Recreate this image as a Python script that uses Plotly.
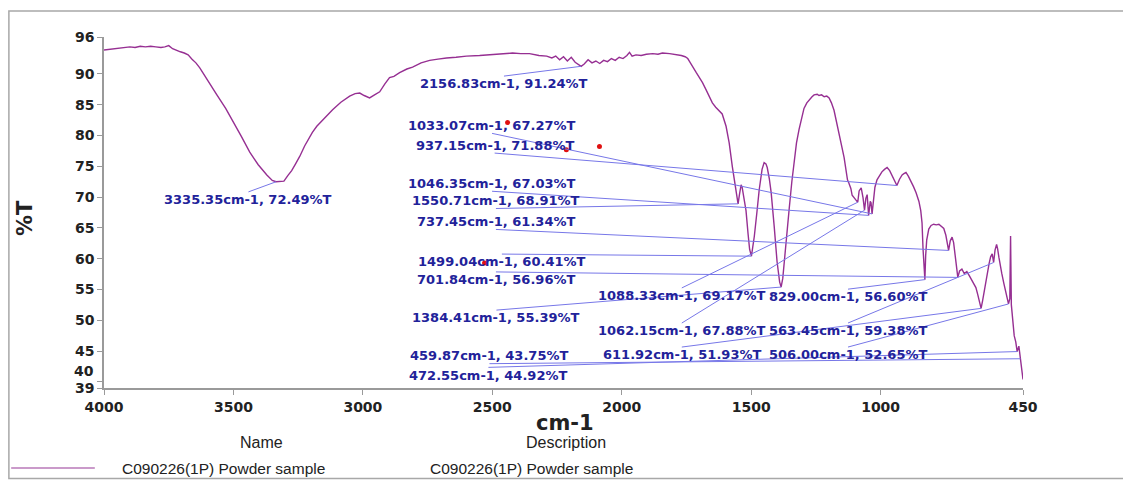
import plotly.graph_objects as go

# ---------------- data ----------------
wavenumber = [
    4000, 3980, 3960, 3940, 3920, 3900, 3880, 3860, 3840, 3820, 3800, 3780, 3765, 3750, 3735,
    3720, 3705, 3690, 3675, 3660, 3645, 3630, 3600, 3564, 3530, 3502, 3470, 3437, 3405, 3371,
    3350, 3335.35, 3320, 3305, 3290, 3275, 3260, 3244, 3225, 3210, 3195, 3178, 3150, 3117, 3085,
    3051, 3030, 3012, 2995, 2974, 2955, 2935, 2915, 2897, 2880, 2858, 2830, 2808, 2775, 2742,
    2710, 2677, 2640, 2600, 2549, 2500, 2460, 2422, 2390, 2356, 2320, 2290, 2270, 2255, 2240,
    2225, 2210, 2195, 2180, 2168, 2156.83, 2145, 2130, 2115, 2100, 2085, 2070, 2055, 2040, 2025,
    2010, 1995, 1980, 1970, 1960, 1945, 1925, 1905, 1880, 1860, 1843, 1815, 1790, 1770, 1755,
    1745, 1739, 1725, 1712, 1700, 1688, 1675, 1662, 1650, 1637, 1625, 1612, 1597, 1585, 1573,
    1562, 1555, 1550.71, 1545, 1539, 1535, 1528, 1520, 1512, 1506, 1499.04, 1493, 1488, 1478, 1469,
    1458, 1450, 1443, 1438, 1430, 1423, 1411, 1400, 1390, 1384.41, 1378, 1373, 1363, 1353, 1343,
    1334, 1325, 1315, 1305, 1296, 1285, 1276, 1265, 1257, 1245, 1238, 1228, 1218, 1208, 1199,
    1190, 1180, 1170, 1160, 1150, 1141, 1134, 1128, 1122, 1115, 1110, 1103, 1095, 1088.33, 1083,
    1075, 1068, 1062.15, 1057, 1052, 1046.35, 1040, 1037, 1033.07, 1028, 1022, 1014, 1005, 995,
    985, 975, 965, 956, 947, 937.15, 927, 917, 910, 902, 893, 883, 873, 863, 852,
    845, 840, 836, 832, 829.00, 826, 822, 814, 805, 795, 785, 775, 765, 756, 748,
    743, 737.45, 731, 724, 718, 710, 705, 701.84, 695, 686, 677, 667, 657, 648, 640,
    632, 625, 618, 611.92, 606, 601, 594, 588, 581, 575, 569, 563.45, 558, 552, 548,
    543, 538, 532, 524, 517, 512, 506.00, 501, 498, 495, 490, 484, 478, 472.55, 466,
    459.87, 455, 450,
]
transmittance = [
    93.9, 94.0, 94.0, 94.2, 94.2, 94.4, 94.3, 94.5, 94.4, 94.5, 94.4, 94.3, 94.4, 94.6, 94.1,
    93.8, 93.6, 93.4, 93.1, 92.4, 91.8, 91.0, 88.9, 86.6, 84.4, 82.4, 79.9, 77.3, 75.3, 73.6,
    72.7, 72.49, 72.5, 72.6, 73.5, 74.3, 75.4, 76.6, 78.3, 79.5, 80.5, 81.5, 82.8, 84.2, 85.4,
    86.4, 86.8, 86.9, 86.5, 86.1, 86.6, 87.1, 88.4, 89.4, 89.6, 90.2, 90.8, 91.1, 91.8, 92.2,
    92.4, 92.6, 92.7, 92.9, 93.0, 93.2, 93.3, 93.4, 93.3, 93.3, 93.0, 92.9, 92.6, 92.9, 92.3,
    92.8, 92.1, 92.7, 91.9, 91.5, 91.24, 91.6, 92.3, 91.8, 92.1, 91.7, 92.2, 92.0, 92.5, 92.2,
    92.7, 92.5, 93.0, 93.5, 92.9, 93.1, 93.0, 93.2, 93.3, 93.2, 93.4, 93.3, 93.2, 93.0, 92.8,
    92.5, 92.1, 91.0, 90.2, 89.4, 88.6, 87.5, 86.4, 85.3, 84.6, 84.1, 83.5, 81.5, 78.8, 75.0,
    71.8, 69.5, 68.91, 70.5, 72.0, 71.6, 70.0, 67.8, 64.0, 61.5, 60.41, 61.8, 63.6, 67.5, 71.2,
    74.5, 75.6, 75.4, 74.8, 73.0, 70.8, 65.2, 59.5, 56.2, 55.39, 56.8, 59.3, 63.8, 68.2, 72.5,
    76.0, 78.8, 81.0, 83.1, 84.4, 85.3, 85.8, 86.3, 86.6, 86.7, 86.5, 86.6, 86.3, 86.4, 86.1,
    85.3, 84.1, 82.3, 80.4, 78.2, 76.4, 74.6, 72.8, 72.2, 71.4, 70.3, 70.0, 69.5, 69.17, 71.0,
    71.5, 69.9, 67.88, 69.8, 70.4, 67.03, 69.3, 69.1, 67.27, 69.8, 71.6, 72.8, 73.5, 74.1,
    74.5, 74.8, 74.3, 73.6, 72.8, 71.88, 72.9, 73.6, 73.8, 74.0, 73.4, 72.6, 71.7, 70.7, 69.3,
    67.8, 65.8, 61.5, 58.5, 56.60, 60.5, 63.0, 64.8, 65.4, 65.6, 65.5, 65.6, 65.3, 64.9, 63.8,
    62.8, 61.34, 62.9, 63.5, 62.6, 60.2, 58.2, 56.96, 58.0, 58.3, 57.6, 57.9, 57.2, 56.5, 56.1,
    55.3, 54.2, 52.8, 51.93, 53.2, 54.5, 56.3, 57.8, 59.2, 60.3, 60.8, 59.38, 61.4, 62.3, 61.6,
    60.2, 58.8, 57.6, 56.0, 54.7, 53.7, 52.65, 53.5, 63.7, 52.5, 50.0, 47.5, 46.5, 44.92, 45.8,
    43.75, 42.0, 40.4,
]

# labelled peaks
peak_wn = [2156.83, 3335.35, 1033.07, 937.15, 1046.35, 1550.71, 737.45, 1499.04, 701.84,
           1088.33, 829.00, 1384.41, 1062.15, 563.45, 459.87, 611.92, 506.00, 472.55]
peak_T = [91.24, 72.49, 67.27, 71.88, 67.03, 68.91, 61.34, 60.41, 56.96,
          69.17, 56.60, 55.39, 67.88, 59.38, 43.75, 51.93, 52.65, 44.92]

# stray red dots seen on the chart
dot_wn = [2441, 2214, 2086, 2530]
dot_T = [82.1, 77.7, 78.2, 59.3]

x_ticks = [4000, 3500, 3000, 2500, 2000, 1500, 1000, 450]
y_ticks = [39, 40, 45, 50, 55, 60, 65, 70, 75, 80, 85, 90, 96]

legend_name = "C090226(1P) Powder sample"
legend_desc = "C090226(1P) Powder sample"

# ---------------- layout helpers (label centres, in axis units) ----------------
label_x = [2455, 3442, 2501, 2491, 2501, 2486, 2486, 2463, 2486,
           1768, 1126, 2484, 1768, 1126, 2511, 1768, 1126, 2515]
label_y = [88.4, 69.6, 81.6, 78.4, 72.2, 69.4, 66.0, 59.5, 56.6,
           54.0, 53.8, 50.4, 48.3, 48.3, 44.2, 44.4, 44.4, 41.1]

CURVE = "#962f92"
LEAD = "#7777e8"
LABEL = "#22229a"

fig = go.Figure()
fig.add_trace(go.Scatter(x=wavenumber, y=transmittance, mode="lines",
                         line=dict(color=CURVE, width=1.4), hoverinfo="skip", showlegend=False))
fig.add_trace(go.Scatter(x=dot_wn, y=dot_T, mode="markers",
                         marker=dict(color="#e01010", size=5), hoverinfo="skip", showlegend=False))

annotations = []
shapes = []
for wn, t, lx, ly in zip(peak_wn, peak_T, label_x, label_y):
    y0 = ly - 1.25 if t < ly else ly + 1.25
    shapes.append(dict(type="line", xref="x", yref="y", x0=lx, y0=y0, x1=wn, y1=t,
                       line=dict(color=LEAD, width=1)))
    annotations.append(dict(x=lx, y=ly, xref="x", yref="y", showarrow=False,
                            text=f"<b>{wn:.2f}cm-1, {t:.2f}%T</b>",
                            font=dict(family="DejaVu Sans", size=13, color=LABEL),
                            xanchor="center", yanchor="middle"))

# outer frame
shapes.append(dict(type="rect", xref="paper", yref="paper", x0=-0.1035, x1=1.13,
                   y0=-0.258, y1=1.074, line=dict(color="#a8a8a8", width=1.5),
                   fillcolor="rgba(0,0,0,0)", layer="below"))
# legend line sample
shapes.append(dict(type="line", xref="paper", yref="paper", x0=-0.101, x1=-0.010,
                   y0=-0.228, y1=-0.228, line=dict(color="#b878b8", width=1.5)))

TXT = "#222222"
annotations += [
    dict(x=0, y=41.7, xref="paper", yref="y", xshift=-8, text="<b>40</b>", showarrow=False,
         xanchor="right", yanchor="middle", font=dict(family="DejaVu Sans", size=14, color=TXT)),
    dict(x=0.5016, y=-0.10, xref="paper", yref="paper", text="<b>cm-1</b>", showarrow=False,
         xanchor="center", yanchor="middle", font=dict(family="DejaVu Sans", size=21, color=TXT)),
    dict(x=-0.086, y=0.484, xref="paper", yref="paper", text="<b>%T</b>", showarrow=False,
         textangle=-90, xanchor="center", yanchor="middle",
         font=dict(family="DejaVu Sans", size=21, color=TXT)),
    dict(x=0.1719, y=-0.154, xref="paper", yref="paper", text="Name", showarrow=False,
         xanchor="center", yanchor="middle", font=dict(family="Liberation Sans", size=16, color=TXT)),
    dict(x=0.5027, y=-0.154, xref="paper", yref="paper", text="Description", showarrow=False,
         xanchor="center", yanchor="middle", font=dict(family="Liberation Sans", size=16, color=TXT)),
    dict(x=0.0174, y=-0.228, xref="paper", yref="paper", text=legend_name, showarrow=False,
         xanchor="left", yanchor="middle", font=dict(family="Liberation Sans", size=15.5, color=TXT)),
    dict(x=0.3526, y=-0.228, xref="paper", yref="paper", text=legend_desc, showarrow=False,
         xanchor="left", yanchor="middle", font=dict(family="Liberation Sans", size=15.5, color=TXT)),
]

axis_common = dict(showgrid=False, zeroline=False, showline=True, linecolor="#9a9a9a",
                   linewidth=1.5, ticks="outside", ticklen=5, tickcolor="#9a9a9a",
                   tickfont=dict(family="DejaVu Sans", size=14, color=TXT, weight="bold"))

# the page body adds an 8px margin, so the figure is sized/positioned to compensate
fig.update_layout(
    width=1123, height=475,
    margin=dict(l=96, r=108, t=29, b=95),
    paper_bgcolor="white", plot_bgcolor="white",
    xaxis=dict(range=[4000, 450], tickvals=x_ticks, ticktext=[str(v) for v in x_ticks],
               **axis_common),
    yaxis=dict(range=[39, 96], tickvals=y_ticks,
               ticktext=["" if v == 40 else str(v) for v in y_ticks], **axis_common),
    annotations=annotations, shapes=shapes, showlegend=False,
)

fig.write_html("out.html")
